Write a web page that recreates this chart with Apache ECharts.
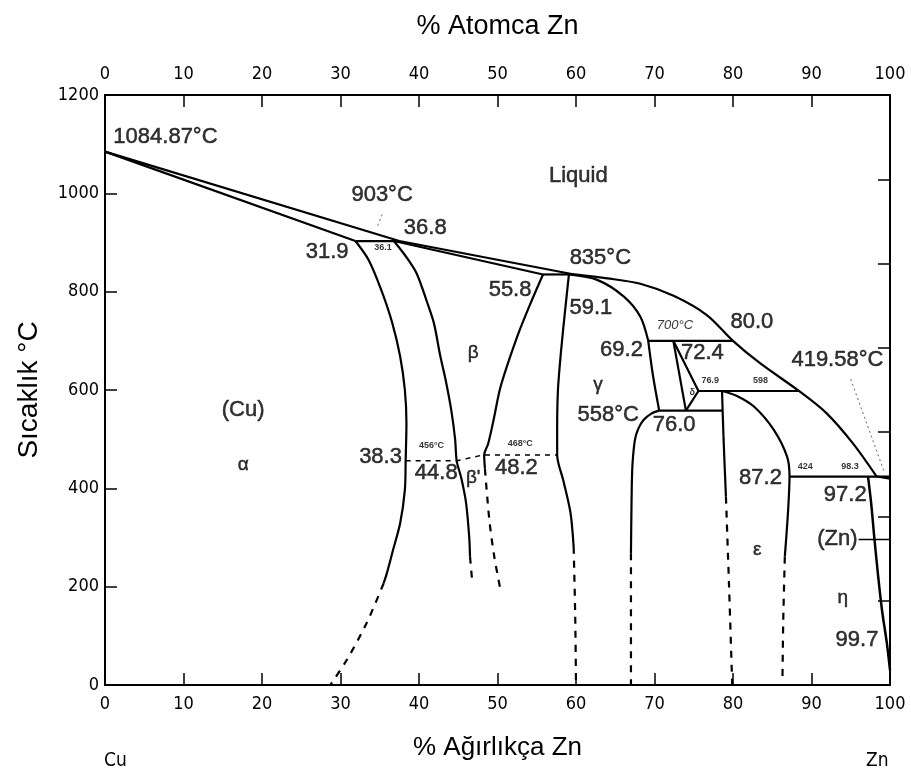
<!DOCTYPE html>
<html>
<head>
<meta charset="utf-8">
<title>Cu-Zn Faz Diyagramı</title>
<script src="https://cdn.jsdelivr.net/npm/echarts@6/dist/echarts.min.js"></script>
<style>
  html, body { margin: 0; padding: 0; background: #fff; }
  #chart { width: 911px; height: 774px; }
</style>
</head>
<body>
<div id="chart"></div>
<script>
// ---- Phase boundaries: [wt% Zn, temperature °C] ----
const liquidusHigh = [[0, 1084.87], [37.5, 903], [59.8, 835]];
const liquidusLow = [[59.8, 835], [64, 827], [68.2, 816], [72.5, 791], [76.7, 752], [80.0, 700],
  [83.4, 655], [88.4, 598], [91.9, 553], [95.3, 491], [98.3, 424]];
const liquidusTail = [[98.3, 424], [100, 419.58]];
const alphaSolidus = [[0, 1084.87], [31.9, 903]];
const betaSolidus = [[36.8, 903], [55.8, 835]];
const gammaSolidus = [[59.1, 835], [62.7, 824], [66.1, 790], [68.2, 749], [69.2, 700]];

const alphaSolvus = [[31.9, 903], [33.6, 864], [35.2, 803], [36.6, 736], [37.6, 668], [38.2, 600],
  [38.4, 532], [38.3, 456], [38.2, 397], [37.6, 329], [36.7, 275], [35.9, 227], [35.5, 207]];
const alphaSolvusDash = [[35.5, 207], [33.3, 125], [30.8, 51], [28.7, 0]];

const betaLeft = [[36.8, 903], [38.4, 870], [39.7, 837], [41.0, 780], [41.9, 736], [42.7, 670],
  [43.4, 620], [44.1, 560], [44.6, 500], [44.8, 456], [45.4, 420], [46.0, 370], [46.4, 300], [46.5, 261]];
const betaLeftDash = [[46.5, 261], [46.8, 207]];
const betaRight = [[55.8, 835], [54.2, 776], [52.5, 708], [50.4, 607], [49.5, 539], [48.8, 490],
  [48.3, 468], [48.4, 440]];
const betaRightDash = [[48.4, 440], [48.6, 400], [49.0, 330], [49.6, 260], [50.3, 200]];

const gammaLeft = [[59.1, 835], [58.6, 760], [58.1, 680], [57.7, 600], [57.6, 520], [57.6, 468],
  [58.4, 415], [59.3, 350], [59.7, 281]];
const gammaLeftDash = [[59.7, 281], [59.9, 140], [60, 0]];
const gammaRightUpper = [[69.2, 700], [69.8, 630], [70.6, 558]];
const gammaRightLower = [[70.6, 558], [69.6, 552], [68.6, 539], [67.9, 520], [67.5, 498],
  [67.2, 450], [67.1, 400], [67.0, 268]];
const gammaRightDash = [[67.0, 268], [67.0, 0]];

const deltaLeft = [[72.4, 700], [74.0, 558]];
const deltaRight = [[72.4, 700], [75.6, 598], [74.0, 558]];

const epsLeft = [[78.6, 598], [78.8, 500], [79.1, 383]];
const epsLeftDash = [[79.1, 383], [79.5, 200], [79.9, 0]];
const epsRight = [[78.6, 598], [80.5, 588], [82.7, 566], [85.2, 519], [86.9, 464], [87.2, 424],
  [87.0, 350], [86.6, 261]];
const epsRightDash = [[86.6, 261], [86.4, 130], [86.3, 10]];

const etaSolvus = [[97.2, 424], [97.6, 370], [98.0, 300], [98.5, 220], [99.0, 150], [99.6, 85], [100, 30]];

// ---- Invariant (horizontal) reactions ----
const iso903 = [[31.9, 903], [37.5, 903]];
const iso835 = [[55.8, 835], [59.8, 835]];
const iso700 = [[69.2, 700], [80.0, 700]];
const iso598 = [[75.6, 598], [88.4, 598]];
const iso558 = [[70.6, 558], [78.6, 558]];
const iso424 = [[87.2, 424], [100, 424]];

// β → β' ordering transition
const ordering = [[38.3, 456], [44.8, 456], [48.2, 468], [57.6, 468]];

// Leader lines and pointer
const leader903 = [[35.3, 957], [34.7, 933]];
const leader419 = [[95.0, 622], [99.3, 432]];
const znPointer = [[96.0, 296], [100, 296]];

// ---- Annotations: [x, y, text] ----
const valueLabels = [
  [7.7, 1114, '1084.87°C'], [35.3, 997, '903°C'], [40.8, 929, '36.8'], [28.3, 880, '31.9'],
  [60.3, 1035, 'Liquid'], [63.1, 868, '835°C'], [51.6, 803, '55.8'], [61.9, 767, '59.1'],
  [82.4, 738, '80.0'], [65.8, 681, '69.2'], [76.1, 675, '72.4'], [93.3, 661, '419.58°C'],
  [17.6, 559, '(Cu)'], [64.1, 549, '558°C'], [72.5, 529, '76.0'], [35.1, 464, '38.3'],
  [42.2, 431, '44.8'], [52.4, 441, '48.2'], [83.5, 421, '87.2'], [94.3, 386, '97.2'],
  [93.3, 297, '(Zn)'], [95.8, 92, '99.7']
];
const phaseLabels = [
  [46.9, 675, 'β'], [62.8, 610, 'γ'], [17.6, 447, 'α'], [46.9, 421, "β'"],
  [83.1, 275, 'ε'], [94.0, 177, 'η']
];
const smallLabels = [
  [35.4, 889, '36.1'], [77.1, 620, '76.9'], [83.5, 620, '598'], [41.6, 488, '456°C'],
  [52.9, 492, '468°C'], [89.2, 445, '424'], [94.9, 445, '98.3'], [74.8, 594, 'δ']
];
const italicLabels = [[72.6, 732, '700°C']];

const FONT = "'Liberation Sans', Arial, sans-serif";
const NARROW = "'Liberation Sans Narrow', 'DejaVu Sans Condensed', 'Liberation Sans', sans-serif";

function line(data, opts) {
  opts = opts || {};
  return {
    type: 'line',
    data: data,
    xAxisIndex: 0,
    yAxisIndex: 0,
    showSymbol: false,
    symbol: 'none',
    smooth: opts.smooth || false,
    silent: true,
    z: 3,
    lineStyle: {
      color: opts.color || '#000',
      width: opts.width || 2.2,
      type: opts.type || 'solid'
    }
  };
}

function texts(data, size, extra) {
  return {
    type: 'scatter',
    data: data,
    xAxisIndex: 0,
    yAxisIndex: 0,
    symbolSize: 1,
    silent: true,
    z: 5,
    itemStyle: { color: 'transparent' },
    label: Object.assign({
      show: true,
      position: 'inside',
      formatter: function (p) { return p.data[2]; },
      color: '#000',
      textBorderWidth: 0.5,
      textBorderColor: '#000',
      fontFamily: FONT,
      fontSize: size
    }, extra || {})
  };
}

const DASH = [7, 7];
const curve = { smooth: 0.3 };
const dash = { type: DASH, smooth: 0.3 };

const plainNumber = function (v) { return String(v); };

const axisCommon = {
  type: 'value',
  min: 0,
  max: 100,
  interval: 10,
  axisLine: { show: true, onZero: false, lineStyle: { color: '#000', width: 2 } },
  axisTick: { show: true, inside: true, length: 12, lineStyle: { color: '#000', width: 1.5 } },
  axisLabel: { color: '#000', fontSize: 18, fontFamily: NARROW, formatter: plainNumber },
  splitLine: { show: false }
};

const option = {
  animation: false,
  backgroundColor: '#fff',
  grid: { left: 105, right: 21, top: 95, bottom: 89 },
  xAxis: [
    Object.assign({}, axisCommon, {
      position: 'bottom',
      axisLabel: Object.assign({}, axisCommon.axisLabel, { margin: 10 }),
      name: '% Ağırlıkça Zn',
      nameLocation: 'middle',
      nameGap: 50,
      nameTextStyle: { color: '#000', fontSize: 26, fontFamily: FONT }
    }),
    Object.assign({}, axisCommon, {
      position: 'top',
      axisLabel: Object.assign({}, axisCommon.axisLabel, { margin: 12 }),
      name: '% Atomca Zn',
      nameLocation: 'middle',
      nameGap: 55,
      nameTextStyle: { color: '#000', fontSize: 27, fontFamily: FONT }
    })
  ],
  yAxis: [
    {
      type: 'value',
      position: 'left',
      min: 0,
      max: 1200,
      interval: 200,
      axisLine: { show: true, onZero: false, lineStyle: { color: '#000', width: 2 } },
      axisTick: { show: true, inside: true, length: 12, lineStyle: { color: '#000', width: 1.5 } },
      axisLabel: { color: '#000', fontSize: 18, fontFamily: NARROW, margin: 6, formatter: plainNumber },
      splitLine: { show: false },
      name: 'Sıcaklık °C',
      nameLocation: 'middle',
      nameGap: 62,
      nameRotate: 90,
      nameTextStyle: { color: '#000', fontSize: 28, fontFamily: FONT }
    },
    {
      type: 'value',
      position: 'right',
      min: 0,
      max: 1200,
      interval: 1200 / 7,
      axisLine: { show: true, onZero: false, lineStyle: { color: '#000', width: 2 } },
      axisTick: { show: true, inside: true, length: 12, lineStyle: { color: '#000', width: 1.5 } },
      axisLabel: { show: false },
      splitLine: { show: false }
    }
  ],
  graphic: [
    { type: 'text', left: 104, top: 752, style: { text: 'Cu', fontSize: 19, fontFamily: NARROW, fill: '#000' } },
    { type: 'text', left: 866, top: 752, style: { text: 'Zn', fontSize: 19, fontFamily: NARROW, fill: '#000' } }
  ],
  series: [
    line(liquidusHigh),
    line(liquidusLow, curve),
    line(liquidusTail),
    line(alphaSolidus),
    line(betaSolidus),
    line(gammaSolidus, curve),
    line(alphaSolvus, curve),
    line(alphaSolvusDash, dash),
    line(betaLeft, curve),
    line(betaLeftDash, dash),
    line(betaRight, curve),
    line(betaRightDash, dash),
    line(gammaLeft, curve),
    line(gammaLeftDash, dash),
    line(gammaRightUpper, curve),
    line(gammaRightLower, curve),
    line(gammaRightDash, { type: DASH }),
    line(deltaLeft),
    line(deltaRight),
    line(epsLeft, curve),
    line(epsLeftDash, dash),
    line(epsRight, curve),
    line(epsRightDash, dash),
    line(etaSolvus, Object.assign({ width: 2.5 }, curve)),
    line(iso903),
    line(iso835),
    line(iso700),
    line(iso598),
    line(iso558),
    line(iso424),
    line(ordering, { type: [5, 5], width: 1.5 }),
    line(leader903, { type: [2, 3], width: 1, color: '#666' }),
    line(leader419, { type: [2, 3], width: 1, color: '#666' }),
    line(znPointer, { width: 1.5 }),
    texts(valueLabels, 22),
    texts(phaseLabels, 19),
    texts(smallLabels, 9, { fontWeight: 'bold', textBorderWidth: 0 }),
    texts(italicLabels, 13, { fontStyle: 'italic', textBorderWidth: 0 })
  ]
};

echarts.init(document.getElementById('chart'), null, { renderer: 'canvas' }).setOption(option);
</script>
</body>
</html>
